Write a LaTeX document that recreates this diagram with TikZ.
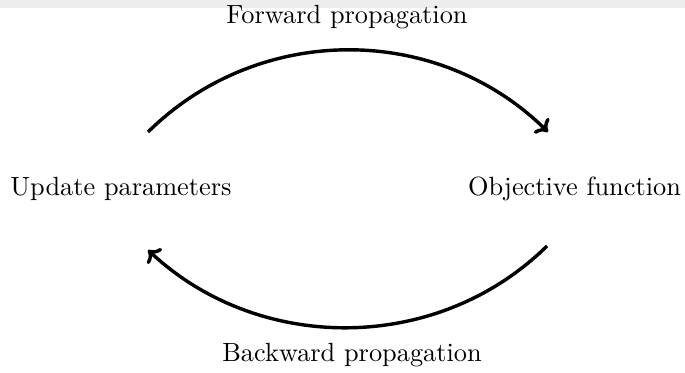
\documentclass[tikz,border=0pt]{standalone}
\usetikzlibrary{arrows.meta}
\begin{document}
\begin{tikzpicture}[x=0.38pt,y=-0.38pt,
  lbl/.style={anchor=base,inner sep=0pt,font=\fontsize{10}{12}\selectfont},
  cyc/.style={line width=1.3pt,-{To[length=4pt,width=8pt]}}]
\useasboundingbox (0,0) rectangle (685,373);
\fill[gray!14] (0,0) rectangle (685,8);
\node[lbl] (fwd) at (347,24) {Forward propagation};
\node[lbl] (upd) at (121,196) {Update parameters};
\node[lbl] (obj) at (574.5,196) {Objective function};
\node[lbl] (bwd) at (352,361) {Backward propagation};
\coordinate (us) at (148,132);
\coordinate (oe) at (548,132);
\coordinate (os) at (547,246);
\coordinate (ue) at (148,250);
\draw[cyc] (us) .. controls (258.7,22.8) and (437.3,22.8) .. (oe);
\draw[cyc] (os) .. controls (437.3,354) and (258.7,354) .. (ue);
\end{tikzpicture}
\end{document}
